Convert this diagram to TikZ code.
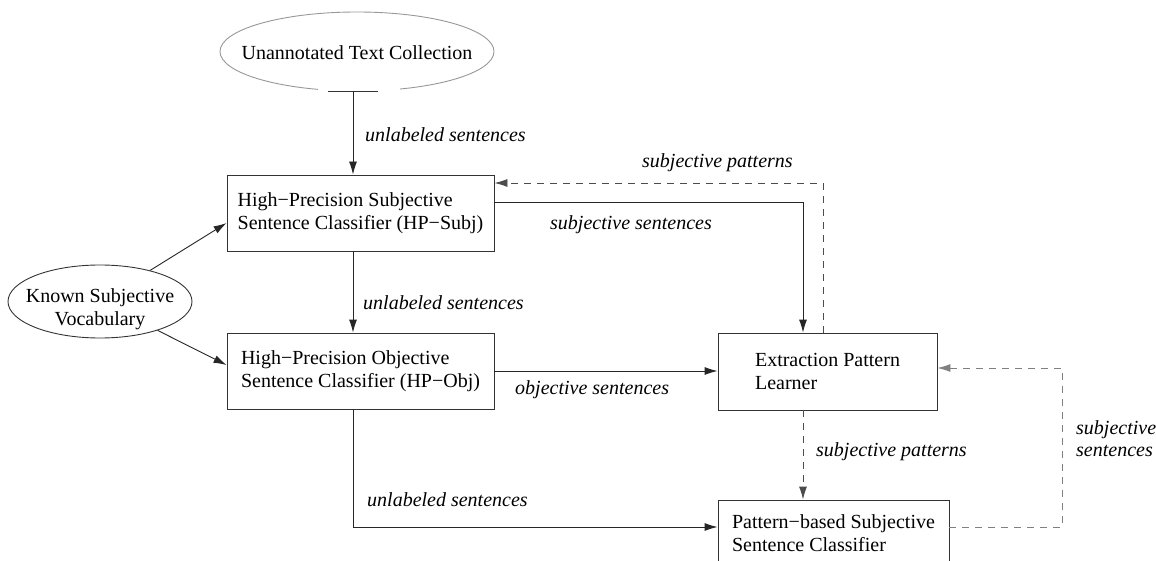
\documentclass[tikz,border=0pt]{standalone}
\usepackage{fontspec}
\setmainfont{Liberation Serif}
\usetikzlibrary{shapes.geometric,arrows.meta}
\begin{document}
\begin{tikzpicture}[x=1pt,y=-1pt,
  every node/.style={font=\fontsize{20}{23}\selectfont},
  boxnode/.style={draw=black!80,line width=0.9pt,align=left,inner sep=0pt},
  ellnode/.style={ellipse,line width=0.9pt,inner sep=0pt},
  lbl/.style={font=\fontsize{20}{22}\selectfont\itshape,anchor=west,inner sep=0pt,align=left},
  arr/.style={draw=black!85,line width=0.9pt,-{Latex[length=13pt,width=8pt]}},
  dasharr/.style={draw=black!70,line width=0.9pt,dash pattern=on 7pt off 6pt,-{Latex[length=13pt,width=8pt]}},
  grayarr/.style={draw=black!50,line width=0.9pt,dash pattern=on 7pt off 6pt,-{Latex[length=13pt,width=8pt]}}
]
\useasboundingbox (0,0) rectangle (1156,561);
\clip (0,0) rectangle (1156,561);
\fill[white] (0,0) rectangle (1156,561);

% nodes
\node[ellnode,draw=black!40,minimum width=274pt,minimum height=79pt] (utc) at (357,51.5) {};
\node[inner sep=0pt] (utct) at (357,53) {Unannotated Text Collection};
\node[ellnode,draw=black!80,minimum width=184pt,minimum height=73pt] (ksv) at (100,301.5) {};
\node[inner sep=0pt,align=center] (ksvt) at (100,309) {Known Subjective\\Vocabulary};
\node[boxnode,minimum width=267pt,minimum height=76pt] (hps) at (360.5,213) {High−Precision Subjective\\Sentence Classifier (HP−Subj)};
\node[boxnode,minimum width=267pt,minimum height=76pt] (hpo) at (360.5,371) {High−Precision Objective\\Sentence Classifier (HP−Obj)};
\node[boxnode,minimum width=219pt,minimum height=77pt] (epl) at (827.5,371.5) {Extraction Pattern\\Learner};
\node[boxnode,minimum width=231pt,minimum height=66pt] (pbs) at (833.5,533) {Pattern−based Subjective\\Sentence Classifier};

% gap at the bottom of the top ellipse
\fill[white] (318,86) rectangle (400,96);
\draw[black!80,line width=0.9pt] (328,91.5) -- (378,91.5);

% helper coordinates
\coordinate (cx) at (353,0);
\coordinate (c1) at (803,0);
\coordinate (c2) at (823,0);
\coordinate (c3) at (1062,0);
\coordinate (eplr) at ([yshift=3.5pt]epl.east);

% connectors
\draw[arr] (utc.south -| cx) -- (hps.north -| cx);
\draw[arr] (hps.south -| cx) -- (hpo.north -| cx);
\draw[arr] (ksv) -- ([yshift=-10pt]hps.west);
\draw[arr] (ksv) -- ([yshift=6pt]hpo.west);
\draw[arr] ([yshift=11pt]hps.east) -| (epl.north -| c1);
\draw[dasharr] (epl.north -| c2) |- ([yshift=30pt]hps.east);
\draw[arr] (hpo.east) -- (epl.west |- hpo.east);
\draw[dasharr] (epl.south -| c1) -- (pbs.north -| c1);
\draw[arr] (hpo.south -| cx) |- ([yshift=6pt]pbs.west);
\draw[grayarr] ([yshift=6pt]pbs.east) -| (c3 |- eplr) -- (eplr);

% labels
\node[lbl] (l1) at (365,135) {unlabeled sentences};
\node[lbl] (l2) at (363,303) {unlabeled sentences};
\node[lbl] (l3) at (367,500) {unlabeled sentences};
\node[lbl] (l4) at (550,225) {subjective sentences};
\node[lbl] (l5) at (642,163) {subjective patterns};
\node[lbl] (l6) at (515,390) {objective sentences};
\node[lbl] (l7) at (816,452) {subjective patterns};
\node[lbl] (l8) at (1076,439) {subjective\\sentences};
\end{tikzpicture}
\end{document}
